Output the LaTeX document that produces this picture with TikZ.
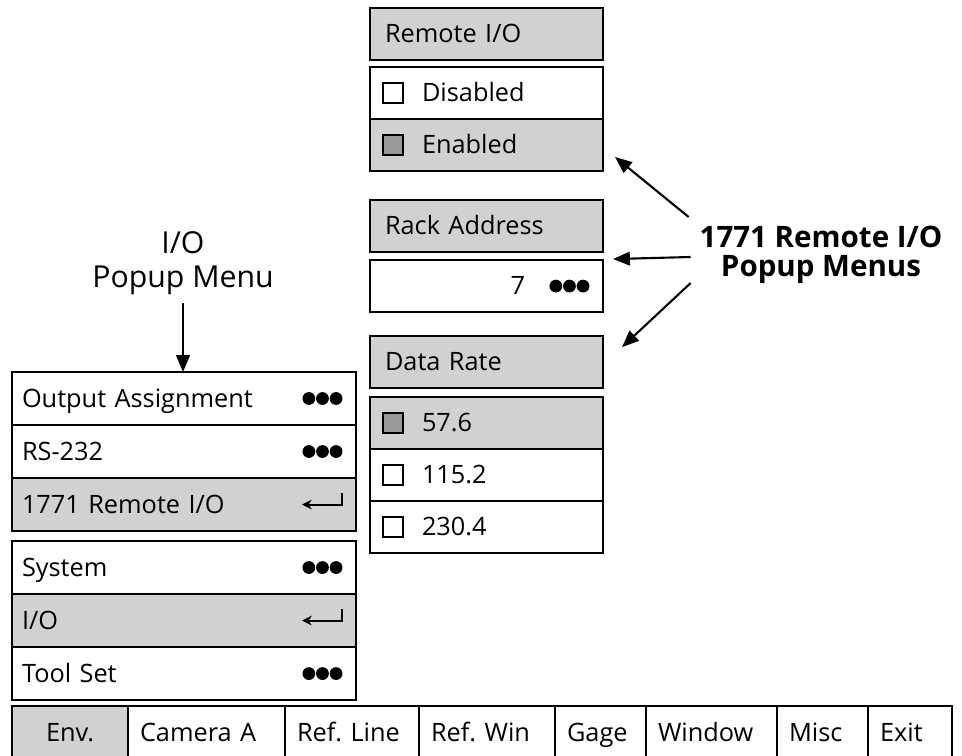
\documentclass[tikz,border=0pt]{standalone}
\usepackage{fontspec}
\newfontfamily\uifont{Open Sans}
\usetikzlibrary{positioning,arrows.meta}
\frenchspacing

\tikzset{
  menu/.style={draw, line width=1.3pt, outer sep=0pt, inner ysep=0pt,
    minimum height=1.3cm, align=left, text height=12.5pt, text depth=0pt,
    font=\uifont\fontsize{18}{21}\selectfont},
  rmenu/.style={menu, inner xsep=0.375cm, text width=5.075cm},
  lmenu/.style={menu, inner xsep=0.25cm, text width=8.1cm, minimum height=1.325cm},
  cell/.style={menu, inner xsep=0.3cm, minimum height=1.35cm, anchor=north west},
  hl/.style={fill=black!18},
  chk/.style={draw, line width=1.1pt, minimum size=0.5cm, inner sep=0pt, outer sep=0pt},
  callout/.style={line width=1.5pt, -{Triangle[length=0.42cm,width=0.34cm]}},
}

% three dots at the right end of a menu row
\newcommand\moredots[1]{%
  \foreach \k in {0,1,2}
    \fill ([xshift=-0.5cm-\k*0.34cm]#1.east) circle (0.16cm);}
% return key symbol
\newcommand\enterkey[1]{%
  \draw[line width=1.4pt, -{Stealth[length=0.24cm,width=0.24cm]}]
    ([xshift=-0.35cm,yshift=0.28cm]#1.east) -- ([xshift=-0.35cm]#1.east)
    -- ([xshift=-1.35cm]#1.east);}

\begin{document}
\begin{tikzpicture}[x=0.025cm, y=-0.025cm]
  \useasboundingbox (0,0) rectangle (962,756);

  % 1771 remote I/O popups
  \node[rmenu, hl, anchor=north west] (remhdr) at (370,8) {Remote I/O};
  \node[rmenu]     (remdis)  [below=0.175cm of remhdr] {\hspace*{0.925cm}Disabled};
  \node[rmenu, hl] (remena)  [below=0pt of remdis]     {\hspace*{0.925cm}Enabled};
  \node[rmenu, hl] (rackhdr) [below=0.725cm of remena] {Rack Address};
  \node[rmenu, align=right] (rackval) [below=0.2cm of rackhdr] {7\hspace{1.575cm}\mbox{}};
  \node[rmenu, hl] (ratehdr) [below=0.6cm of rackval]  {Data Rate};
  \node[rmenu, hl] (rate1)   [below=0.225cm of ratehdr] {\hspace*{0.925cm}57.6};
  \node[rmenu]     (rate2)   [below=0pt of rate1]      {\hspace*{0.925cm}115.2};
  \node[rmenu]     (rate3)   [below=0pt of rate2]      {\hspace*{0.925cm}230.4};

  \node[chk]          (cdis)  [right=0.325cm of remdis.west] {};
  \node[chk, fill=black!40] (cena)  [right=0.325cm of remena.west] {};
  \node[chk, fill=black!40] (crate1) [right=0.325cm of rate1.west] {};
  \node[chk]          (crate2) [right=0.325cm of rate2.west] {};
  \node[chk]          (crate3) [right=0.325cm of rate3.west] {};
  \moredots{rackval}

  % I/O popup and main menu
  \node[lmenu, anchor=north west] (outasg) at (12,372) {Output Assignment};
  \node[lmenu]     (rs232)   [below=0pt of outasg]   {RS-232};
  \node[lmenu, hl] (remio)   [below=0pt of rs232]    {1771 Remote I/O};
  \node[lmenu]     (system)  [below=0.25cm of remio] {System};
  \node[lmenu, hl] (iomenu)  [below=0pt of system]   {I/O};
  \node[lmenu]     (toolset) [below=0pt of iomenu]   {Tool Set};
  \moredots{outasg}
  \moredots{rs232}
  \moredots{system}
  \moredots{toolset}
  \enterkey{remio}
  \enterkey{iomenu}

  % menu bar
  \node[cell, hl, text width=2.3cm, align=center] (env) at (12,706) {Env.};
  \foreach \x/\w/\t/\n in {128/157/Camera A/camera, 285/134/Ref. Line/refline,
      419/136/Ref. Win/refwin, 555/91/Gage/gage, 646/131/Window/window,
      777/91/Misc/misc, 868/84/Exit/exit}
  {
    \pgfmathsetmacro\tw{(\w-24)*0.025}
    \node[cell, text width=\tw cm] (\n) at (\x,706) {\t};
  }

  % callouts
  \node[font=\uifont\fontsize{21.5}{24}\selectfont, align=center] (iolbl) at (183,263)
    {I/O\\Popup Menu};
  \node[font=\uifont\bfseries\fontsize{21}{21}\selectfont, align=center] (rlbl) at (821,255)
    {1771 Remote I/O\\Popup Menus};

  \draw[callout] ([yshift=-0.1cm]iolbl.south) -- (iolbl.south |- outasg.north);
  \draw[callout] ([shift={(-6,-38)}]rlbl.west) -- ([shift={(12,12)}]remena.east);
  \draw[callout] ([shift={(-4,2)}]rlbl.west) -- ([shift={(10,-1)}]rackval.north east);
  \draw[callout] ([shift={(-4,28)}]rlbl.west) -- ([shift={(19,11)}]ratehdr.north east);
\end{tikzpicture}
\end{document}
